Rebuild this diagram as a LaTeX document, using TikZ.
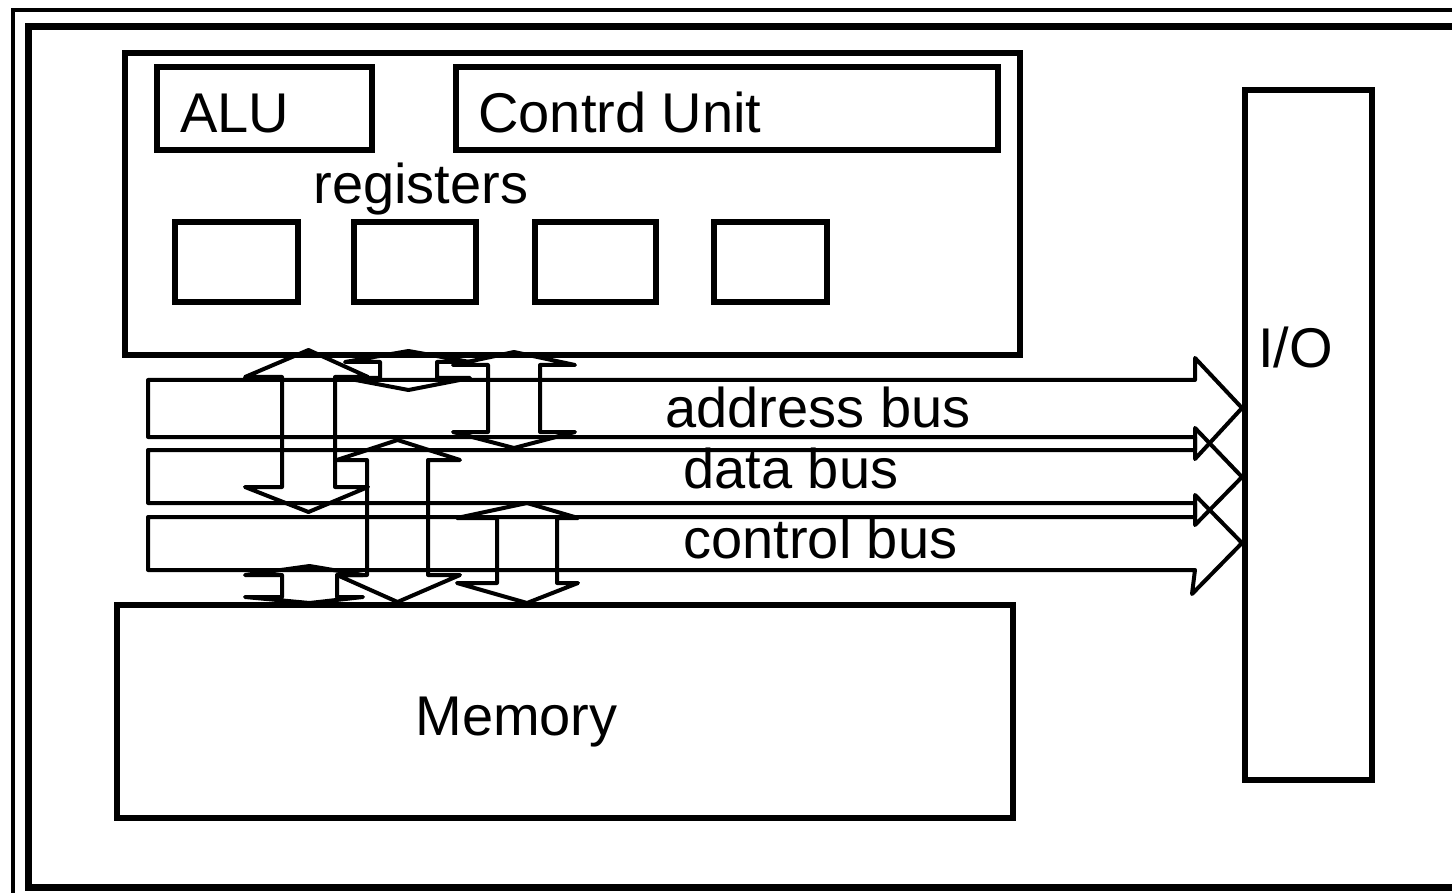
\documentclass[tikz,border=0pt]{standalone}
\usepackage{fontspec}
\setmainfont{Liberation Sans}
\usetikzlibrary{fit}
\newcommand\dblarr[8]{% head-left, shaft-left, shaft-right, head-right, top tip, top barb, bottom barb, bottom tip
  \draw[busline] ({(#2+#3)/2},#5) -- (#4,#6) -- (#3,#6) -- (#3,#7) -- (#4,#7) -- ({(#2+#3)/2},#8)
    -- (#1,#7) -- (#2,#7) -- (#2,#6) -- (#1,#6) -- cycle;}
\begin{document}
\begin{tikzpicture}[x=0.5pt,y=-0.5pt,
  box/.style={draw, line width=3.2pt, inner sep=0pt},
  busline/.style={draw, line width=2pt, line join=round},
  lbl/.style={inner sep=0pt, anchor=base west, font=\fontsize{28}{32}\selectfont}]
\useasboundingbox (0,0) rectangle (1452,893);
\clip (0,0) rectangle (1452,893);
\fill[white] (0,0) rectangle (1452,893);
% frames
\draw[line width=2pt] (13,10) rectangle (1490,930);
\draw[line width=3.5pt] (28,27) rectangle (1490,887);
% CPU
\node[box, fit={(125,53) (1020,355)}] (cpu) {};
\node[box, fit={(157,67) (372,150)}] (alu) {};
\node[box, fit={(456,67) (998,150)}] (cu) {};
\node[box, line width=3pt, fit={(175,222) (298,302)}] (r1) {};
\node[box, line width=3pt, fit={(354,222) (476,302)}] (r2) {};
\node[box, line width=3pt, fit={(535,222) (656,302)}] (r3) {};
\node[box, line width=3pt, fit={(714,222) (827,302)}] (r4) {};
\node[lbl] (talu) at (180,133) {ALU};
\node[lbl] (tcu) at (478,133) {Contrd Unit};
\node[lbl] (treg) at (313,204) {registers};
% I/O and memory
\node[box, line width=3pt, fit={(1245,90) (1372,780)}] (io) {};
\node[lbl] (tio) at (1258,368) {I/O};
\node[box, fit={(117,605) (1013,818)}] (mem) {};
\node[lbl] (tmem) at (415,735) {Memory};
% buses
\coordinate (ta) at (1242,408);
\coordinate (td) at (1242,477);
\coordinate (tc) at (1242,543);
\draw[busline] (148,380) -- (1195,380) -- (1195,358) -- (ta) -- (1195,459) -- (1195,437) -- (148,437) -- cycle;
\draw[busline] (148,450) -- (1195,450) -- (1195,428) -- (td) -- (1195,525) -- (1195,503) -- (148,503) -- cycle;
\draw[busline] (148,517) -- (1195,517) -- (1195,495) -- (tc) -- (1192,594) -- (1195,570) -- (148,570) -- cycle;
\node[lbl] (tab) at (665,428) {address bus};
\node[lbl] (tdb) at (683,488) {data bus};
\node[lbl] (tcb) at (683,558) {control bus};
% vertical double block arrows
\dblarr{245}{282}{335}{368}{350}{377}{487}{512}
\dblarr{345}{380}{437}{470}{351}{362}{378}{390}
\dblarr{453}{488}{540}{575}{352}{365}{432}{448}
\dblarr{337}{367}{428}{460}{440}{460}{575}{602}
\dblarr{457}{497}{557}{578}{503}{518}{583}{603}
\dblarr{245}{282}{337}{363}{566}{575}{597}{603}
\end{tikzpicture}
\end{document}
